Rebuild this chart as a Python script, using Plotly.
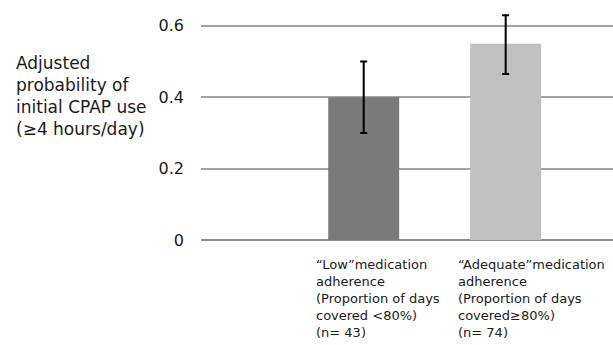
import plotly.graph_objects as go

categories = ["Low", "Adequate"]
values = [0.40, 0.55]
err_plus = [0.10, 0.08]
err_minus = [0.10, 0.085]
bar_colors = ["#7a7a7a", "#c0c0c0"]
cat_labels = [
    "“Low”medication<br>adherence<br>(Proportion of days<br>covered &lt;80%)<br>(n= 43)",
    "“Adequate”medication<br>adherence<br>(Proportion of days<br>covered≥80%)<br>(n= 74)",
]
tick_vals = [0, 0.2, 0.4, 0.6]
tick_text = ["0", "0.2", "0.4", "0.6"]
y_title = "Adjusted<br>probability of<br>initial CPAP use<br>(≥4 hours/day)"

FONT = "DejaVu Sans, Arial, sans-serif"

fig = go.Figure()
fig.add_trace(go.Bar(
    x=list(range(len(categories))),
    y=values,
    width=0.5,
    marker=dict(color=bar_colors, line=dict(width=0)),
    error_y=dict(type="data", array=err_plus, arrayminus=err_minus,
                 color="black", thickness=2, width=3.5),
    showlegend=False,
))

for i, lab in enumerate(cat_labels):
    fig.add_annotation(x=i - 0.35, xref="x", y=0, yref="paper",
                       xanchor="left", yanchor="top", yshift=-15,
                       text=lab, align="left", showarrow=False,
                       font=dict(family=FONT, size=13, color="#1a1a1a"))

fig.add_annotation(x=-0.453, xref="paper", y=0.62, yref="paper",
                   xanchor="left", yanchor="middle", text=y_title,
                   align="left", showarrow=False,
                   font=dict(family=FONT, size=17, color="#1a1a1a"))

fig.update_layout(
    width=613, height=345,
    margin=dict(l=201, r=0, t=8, b=105),
    paper_bgcolor="white", plot_bgcolor="white",
    bargap=0.5,
)
fig.update_xaxes(range=[-1.146, 1.756], showticklabels=False, showgrid=False,
                 zeroline=False, showline=False)
fig.update_yaxes(range=[0, 0.65], tickvals=tick_vals, ticktext=tick_text,
                 showgrid=True, gridcolor="#a3a3a3", gridwidth=2,
                 zeroline=True, zerolinecolor="#8f8f8f", zerolinewidth=2,
                 showline=False, ticks="", ticklabelstandoff=16,
                 tickfont=dict(family=FONT, size=16, color="#1a1a1a"))

fig.write_html("out.html", config={"displayModeBar": False},
               post_script="document.body.style.margin='0';document.body.style.overflow='hidden';")
